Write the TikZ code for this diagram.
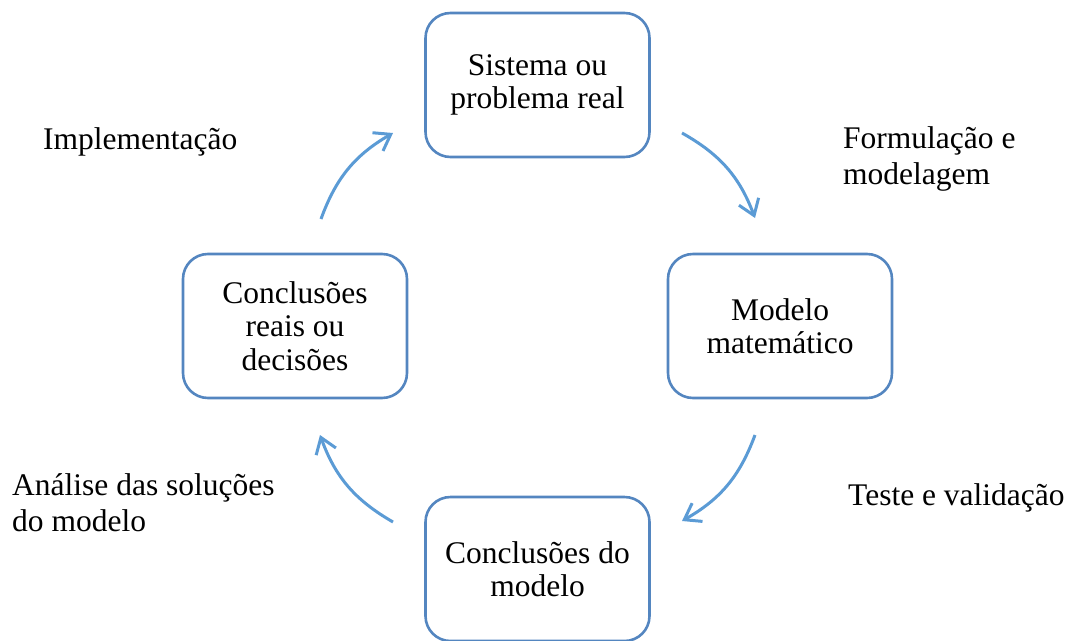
\documentclass[tikz,border=0pt]{standalone}
\usepackage{fontspec}
\setmainfont{Liberation Serif}
\usetikzlibrary{arrows.meta}
\definecolor{boxblue}{RGB}{84,134,192}
\definecolor{arrblue}{RGB}{91,155,213}
\begin{document}
\begin{tikzpicture}[x=1pt,y=1pt,
  stage/.style={draw=boxblue, line width=2.6pt, rounded corners=25pt,
    minimum width=224pt, minimum height=144pt, align=center,
    font=\fontsize{31.5}{33.5}\selectfont, inner sep=0pt},
  lbl/.style={align=left, inner sep=0pt, anchor=base west,
    font=\fontsize{31.5}{35.5}\selectfont},
  flow/.style={draw=arrblue, line width=3pt,
    -{Straight Barb[length=15pt,width=21pt,line width=3pt]}}]
\useasboundingbox (0,0) rectangle (1075,-640);
\node[stage] (top) at (537.5,-85) {Sistema ou\\problema real};
\node[stage] (right) at (780,-326) {Modelo\\matemático};
\node[stage] (bottom) at (537.5,-569) {Conclusões do\\modelo};
\node[stage] (left) at (295,-326) {Conclusões\\reais ou\\decisões};
\coordinate (a1s) at (682,-133);
\coordinate (a1e) at (755,-218);
\coordinate (a2s) at (755,-435);
\coordinate (a2e) at (682,-521);
\coordinate (a3s) at (393,-522);
\coordinate (a3e) at (320,-435);
\coordinate (a4s) at (321,-219);
\coordinate (a4e) at (393,-133);
\draw[flow] (a1s) to[bend left=20] (a1e);
\draw[flow] (a2s) to[bend left=20] (a2e);
\draw[flow] (a3s) to[bend left=20] (a3e);
\draw[flow] (a4s) to[bend left=20] (a4e);
\node[lbl] (limp) at (43,-149) {Implementação};
\node[lbl] (lform) at (843,-184) {Formulação e\\modelagem};
\node[lbl] (ltest) at (848,-505) {Teste e validação};
\node[lbl] (lanal) at (12,-531) {Análise das soluções\\do modelo};
\end{tikzpicture}
\end{document}
